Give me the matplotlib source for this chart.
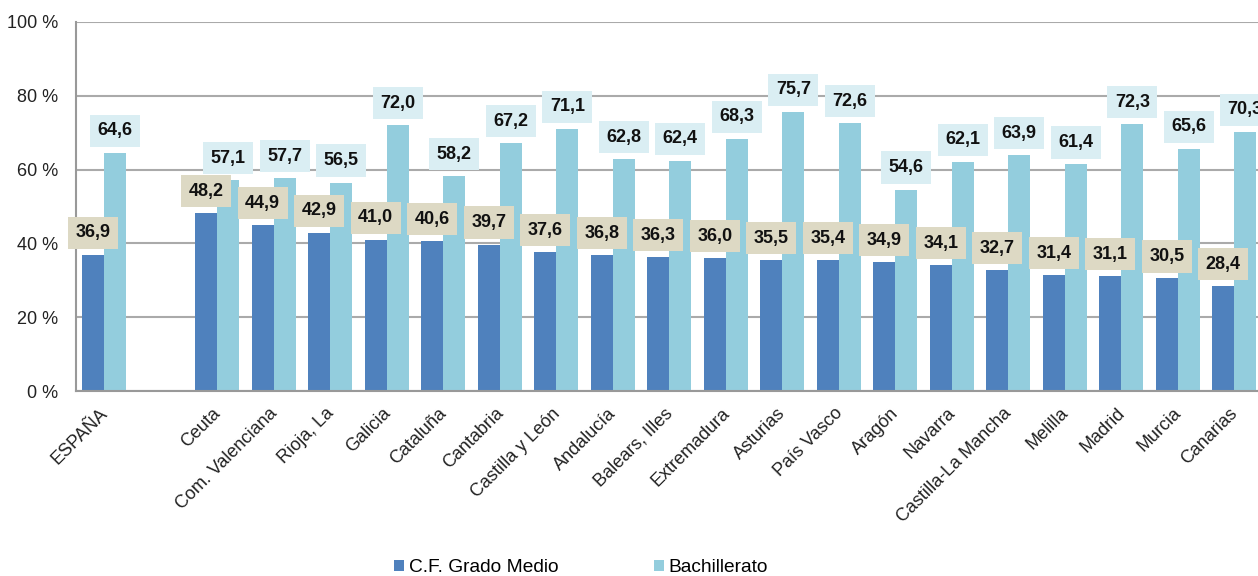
import matplotlib
matplotlib.use("Agg")
import matplotlib.pyplot as plt
import matplotlib.transforms as mtransforms
import numpy as np

categories = ["ESPAÑA", "", "Ceuta", "Com. Valenciana", "Rioja, La", "Galicia", "Cataluña",
              "Cantabria", "Castilla y León", "Andalucía", "Balears, Illes", "Extremadura",
              "Asturias", "País Vasco", "Aragón", "Navarra", "Castilla-La Mancha", "Melilla",
              "Madrid", "Murcia", "Canarias"]
grado_medio = [36.9, None, 48.2, 44.9, 42.9, 41.0, 40.6, 39.7, 37.6, 36.8, 36.3, 36.0,
               35.5, 35.4, 34.9, 34.1, 32.7, 31.4, 31.1, 30.5, 28.4]
bachillerato = [64.6, None, 57.1, 57.7, 56.5, 72.0, 58.2, 67.2, 71.1, 62.8, 62.4, 68.3,
                75.7, 72.6, 54.6, 62.1, 63.9, 61.4, 72.3, 65.6, 70.3]
series_names = ["C.F. Grado Medio", "Bachillerato"]
yticks = [0, 20, 40, 60, 80, 100]

plt.rcParams['font.family'] = ['Liberation Sans', 'DejaVu Sans']

fig = plt.figure(figsize=(12.58, 5.76), dpi=100)
ax = fig.add_axes([76/1258, (576-391)/576, 1186.5/1258, 369/576])

x = np.arange(len(categories))
w = 0.39
c_dark = "#4F81BD"
c_light = "#93CDDD"
box_dark = "#DDD9C4"
box_light = "#DAEEF3"

gm = np.array([v if v is not None else np.nan for v in grado_medio])
ba = np.array([v if v is not None else np.nan for v in bachillerato])

b1 = ax.bar(x - w/2, gm, w, color=c_dark, label=series_names[0], zorder=2)
b2 = ax.bar(x + w/2, ba, w, color=c_light, label=series_names[1], zorder=2)

def fmt(v):
    return f"{v:.1f}".replace(".", ",")

for xi, v in zip(x, gm):
    if np.isnan(v):
        continue
    ax.annotate(fmt(v), (xi - w/2, v), xytext=(0, 22), textcoords='offset pixels',
                ha='center', va='center', fontsize=13, fontweight='bold', color='#111111',
                bbox=dict(boxstyle='square,pad=0.42', fc=box_dark, ec='none'), zorder=5,
                annotation_clip=False)
for xi, v in zip(x, ba):
    if np.isnan(v):
        continue
    ax.annotate(fmt(v), (xi + w/2, v), xytext=(0, 22), textcoords='offset pixels',
                ha='center', va='center', fontsize=13, fontweight='bold', color='#111111',
                bbox=dict(boxstyle='square,pad=0.42', fc=box_light, ec='none'), zorder=4,
                annotation_clip=False)

ax.set_xlim(-0.5, len(categories) - 0.5)
ax.set_ylim(0, 100)
ax.set_yticks(yticks)
ax.set_yticklabels([f"{t} %" for t in yticks], fontsize=13, color='#222222')
ax.set_xticks([i for i, c in enumerate(categories) if c])
ax.set_xticklabels([c for c in categories if c], rotation=45, ha='right',
                   rotation_mode='anchor', fontsize=13, color='#222222')
ax.tick_params(axis='y', length=0, pad=13)
ax.tick_params(axis='x', length=0, pad=10)
shift = mtransforms.ScaledTranslation(-5/100, 0, fig.dpi_scale_trans)
for lbl in ax.get_xticklabels():
    lbl.set_transform(lbl.get_transform() + shift)
ax.yaxis.grid(True, color='#AAAAAA', linewidth=1.5, zorder=0)
ax.set_axisbelow(True)
for s in ['top', 'right']:
    ax.spines[s].set_visible(False)
for s in ['left', 'bottom']:
    ax.spines[s].set_color('#999999')
    ax.spines[s].set_linewidth(1.5)

leg = fig.legend(handles=[b1, b2], labels=series_names, loc='center',
                 bbox_to_anchor=(581/1258, 1 - 568/576), ncol=2, frameon=False,
                 fontsize=13.8, handlelength=0.5, handleheight=0.5, handletextpad=0.25,
                 columnspacing=5.0)

fig.savefig("out.png", dpi=100)
